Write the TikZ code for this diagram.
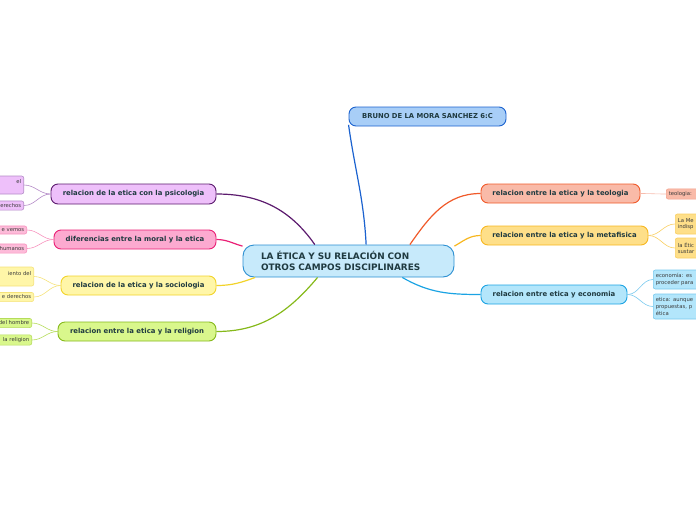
\documentclass[tikz,border=0pt]{standalone}
\usepackage{fontspec}
\setmainfont{DejaVu Sans}
\usetikzlibrary{positioning}

\definecolor{ink}{HTML}{1F3A40}
\definecolor{leafink}{HTML}{3A3A3A}
% centre and name
\definecolor{cenfill}{HTML}{C7EAFB}
\definecolor{cenline}{HTML}{2B8FD1}
\definecolor{brufill}{HTML}{A8CEF7}
\definecolor{bruline}{HTML}{1B62CF}
% left branches
\definecolor{psyfill}{HTML}{EEC0FA}
\definecolor{psyline}{HTML}{5C1B6E}
\definecolor{psyleaf}{HTML}{B48BC7}
\definecolor{diffill}{HTML}{FCAAD0}
\definecolor{difline}{HTML}{EA1F75}
\definecolor{difleaf}{HTML}{F792BD}
\definecolor{socfill}{HTML}{FFF6A8}
\definecolor{socline}{HTML}{F2D32A}
\definecolor{socleaf}{HTML}{F5E27A}
\definecolor{relfill}{HTML}{D9F78C}
\definecolor{relline}{HTML}{86B91B}
\definecolor{relleaf}{HTML}{B5DC5A}
% right branches
\definecolor{teofill}{HTML}{F9BAA8}
\definecolor{teoline}{HTML}{F05A2A}
\definecolor{teoleaf}{HTML}{F3A08A}
\definecolor{metfill}{HTML}{FEDF89}
\definecolor{metline}{HTML}{F7B720}
\definecolor{metleaf}{HTML}{F9CF63}
\definecolor{ecofill}{HTML}{B3E6FB}
\definecolor{ecoline}{HTML}{1BA3E3}
\definecolor{ecoleaf}{HTML}{78C9EE}

\begin{document}
\begin{tikzpicture}[
x=1pt, y=1pt,
topic/.style={draw, line width=0.9pt, rounded corners=7pt, text=ink, align=center, inner sep=2pt,
  minimum height=19pt, font=\fontsize{6.9}{8}\selectfont\bfseries},
leafL/.style={draw, line width=0.6pt, rounded corners=2pt, text=leafink, anchor=east, align=right,
  text width=70pt, inner sep=2.5pt, font=\fontsize{5.3}{6.6}\selectfont},
leafR/.style={draw, line width=0.6pt, rounded corners=2pt, text=leafink, anchor=west, align=left,
  text width=60pt, inner sep=2.5pt, font=\fontsize{5.3}{6.6}\selectfont},
branch/.style={line width=1.2pt},
twig/.style={line width=0.6pt}
]
\useasboundingbox (0,0) rectangle (696,-520);

\node[draw, line width=0.9pt, rounded corners=11pt, fill=cenfill, draw=cenline, text=ink,
  minimum width=211pt, minimum height=32pt, text width=175pt, align=left,
  font=\fontsize{8.9}{11}\selectfont\bfseries] (centre) at (348.5,-261)
{LA ÉTICA Y SU RELACIÓN CON\\OTROS CAMPOS DISCIPLINARES};

\node[topic, fill=brufill, draw=bruline, minimum width=157pt, font=\fontsize{6.8}{8}\selectfont\bfseries]
  (bruno) at (427.5,-116.5) {BRUNO DE LA MORA SANCHEZ 6:C};

% left side
\node[topic, fill=psyfill, draw=psyline, minimum width=165pt, minimum height=20pt] (psy) at (133.5,-194)
  {relacion de la etica con la psicologia};
\node[topic, fill=diffill, draw=difline, minimum width=162pt] (dif) at (135,-239.5)
  {diferencias entre la moral y la etica};
\node[topic, fill=socfill, draw=socline, minimum width=155pt] (soc) at (138.5,-285.5)
  {relacion de la etica y la sociologia};
\node[topic, fill=relfill, draw=relline, minimum width=158pt] (rel) at (137,-331.5)
  {relacion entre la etica y la religion};

% right side
\node[topic, fill=teofill, draw=teoline, minimum width=159pt] (teo) at (560.5,-193.5)
  {relacion entre la etica y la teologia};
\node[topic, fill=metfill, draw=metline, minimum width=167pt] (met) at (564.5,-235.5)
  {relacion entre la etica y la metafisica};
\node[topic, fill=ecofill, draw=ecoline, minimum width=146pt] (eco) at (554,-294.5)
  {relacion entre etica y economia};

% leaves, cut by the page edge
\node[leafL, fill=psyfill, draw=psyleaf, minimum height=18pt] (psyA) at (24,-185) {el\\\mbox{}};
\node[leafL, fill=psyfill, draw=psyleaf] (psyB) at (24,-205.5) {derechos};
\node[leafL, fill=diffill!80, draw=difleaf] (difA) at (27,-230) {e vemos};
\node[leafL, fill=diffill!80, draw=difleaf] (difB) at (27,-248.5) {humanos};
\node[leafL, fill=socfill, draw=socleaf, minimum height=19pt] (socA) at (34,-276.5) {iento del\\\mbox{}};
\node[leafL, fill=socfill, draw=socleaf] (socB) at (34,-297) {e derechos};
\node[leafL, fill=relfill, draw=relleaf] (relA) at (32,-323) {del hombre};
\node[leafL, fill=relfill, draw=relleaf] (relB) at (32,-340) {la religion};

\node[leafR, fill=teofill, draw=teoleaf] (teoA) at (666,-194) {teologia:};
\node[leafR, fill=metfill, draw=metleaf, minimum height=20pt] (metA) at (675,-224) {La Me\\indisp};
\node[leafR, fill=metfill, draw=metleaf, minimum height=20pt] (metB) at (675,-248) {la Étic\\sustar};
\node[leafR, fill=ecofill, draw=ecoleaf, minimum height=19pt] (ecoA) at (653,-279.5) {economía: es\\proceder para};
\node[leafR, fill=ecofill, draw=ecoleaf, minimum height=25pt] (ecoB) at (653,-306.5) {etica: aunque\\propuestas, p\\ética};

% branches from the centre
\draw[branch, bruline] (centre.43) to[out=93, in=-82] (bruno.186);
\draw[branch, psyline] (centre.154) to[out=125, in=0] (psy.east);
\draw[branch, difline] (centre.172) to[out=165, in=0] (dif.east);
\draw[branch, socline] (centre.190) to[out=200, in=0] (soc.east);
\draw[branch, relline] (centre.208) to[out=230, in=0] (rel.east);
\draw[branch, teoline] (centre.15) to[out=55, in=180] (teo.west);
\draw[branch, metline] (centre.8) to[out=30, in=180] (met.west);
\draw[branch, ecoline] (centre.-17) to[out=-30, in=180] (eco.west);

% twigs to the leaves
\draw[twig, psyleaf] (psy.west) to[out=180, in=0] (psyA.east);
\draw[twig, psyleaf] (psy.west) to[out=180, in=0] (psyB.east);
\draw[twig, difleaf] (dif.west) to[out=180, in=0] (difA.east);
\draw[twig, difleaf] (dif.west) to[out=180, in=0] (difB.east);
\draw[twig, socleaf] (soc.west) to[out=180, in=0] (socA.east);
\draw[twig, socleaf] (soc.west) to[out=180, in=0] (socB.east);
\draw[twig, relleaf] (rel.west) to[out=180, in=0] (relA.east);
\draw[twig, relleaf] (rel.west) to[out=180, in=0] (relB.east);
\draw[twig, teoleaf!70] (teo.east) to[out=0, in=180] (teoA.west);
\draw[twig, metleaf] (met.east) to[out=0, in=180] (metA.west);
\draw[twig, metleaf] (met.east) to[out=0, in=180] (metB.west);
\draw[twig, ecoleaf] (eco.east) to[out=0, in=180] (ecoA.west);
\draw[twig, ecoleaf] (eco.east) to[out=0, in=180] (ecoB.west);

\end{tikzpicture}
\end{document}
